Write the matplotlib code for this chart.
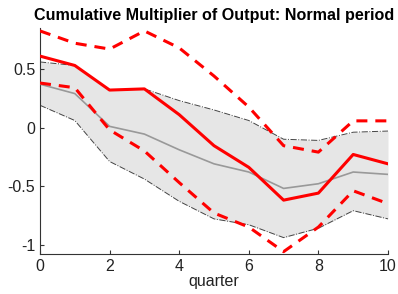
import matplotlib
matplotlib.use("Agg")
import matplotlib.pyplot as plt  # noqa: E402
import numpy as np               # noqa: E402

plt.rcParams["font.family"] = ["Liberation Sans", "DejaVu Sans"]

quarter = np.arange(11)
# multiplier for the normal period (red) and its bands
normal = [0.61, 0.53, 0.32, 0.33, 0.11, -0.155, -0.34, -0.62, -0.56, -0.23, -0.31]
normal_hi = [0.825, 0.72, 0.67, 0.825, 0.68, 0.44, 0.175, -0.155, -0.21, 0.057, 0.057]
normal_lo = [0.38, 0.34, -0.02, -0.2, -0.47, -0.73, -0.85, -1.06, -0.85, -0.54, -0.65]
# linear benchmark (gray) and its shaded band
linear = [0.37, 0.29, 0.01, -0.056, -0.19, -0.31, -0.38, -0.52, -0.48, -0.38, -0.40]
linear_hi = [0.56, 0.53, 0.32, 0.33, 0.23, 0.15, 0.06, -0.10, -0.11, -0.04, -0.03]
linear_lo = [0.19, 0.06, -0.29, -0.44, -0.63, -0.78, -0.83, -0.94, -0.86, -0.71, -0.78]

fig = plt.figure(figsize=(3.98, 2.94), dpi=100)
ax = fig.add_axes([40 / 398, 1 - 254 / 294, 348 / 398, 226 / 294])

ax.fill_between(quarter, linear_lo, linear_hi, color="#e6e6e6", lw=0, zorder=1)
ax.plot(quarter, linear_hi, color="#444444", lw=0.7, ls="-.", zorder=2)
ax.plot(quarter, linear_lo, color="#444444", lw=0.7, ls="-.", zorder=2)
ax.plot(quarter, linear, color="#999999", lw=1.2, zorder=3)
ax.plot(quarter, normal, color="red", lw=2.2, zorder=4)
ax.plot(quarter, normal_hi, color="red", lw=2.2, ls=(0, (3.6, 2.6)), zorder=4)
ax.plot(quarter, normal_lo, color="red", lw=2.2, ls=(0, (3.6, 2.6)), zorder=4)

ax.set_xlim(0, 10)
ax.set_ylim(-1.08, 0.85)
ax.set_xticks([0, 2, 4, 6, 8, 10])
ax.set_yticks([-1, -0.5, 0, 0.5])
ax.set_yticklabels(["-1", "-0.5", "0", "0.5"])
for s in ["top", "right"]:
    ax.spines[s].set_visible(False)
for s in ["left", "bottom"]:
    ax.spines[s].set_color("#333333")
ax.tick_params(direction="in", length=3, labelsize=11.5, colors="#333333",
               labelcolor="#222222")
ax.set_xlabel("quarter", fontsize=11.5, labelpad=0, color="#222222")
ax.set_title("Cumulative Multiplier of Output: Normal period", fontsize=11.6,
             fontweight="bold", pad=6)
fig.savefig("out.png", dpi=100)
